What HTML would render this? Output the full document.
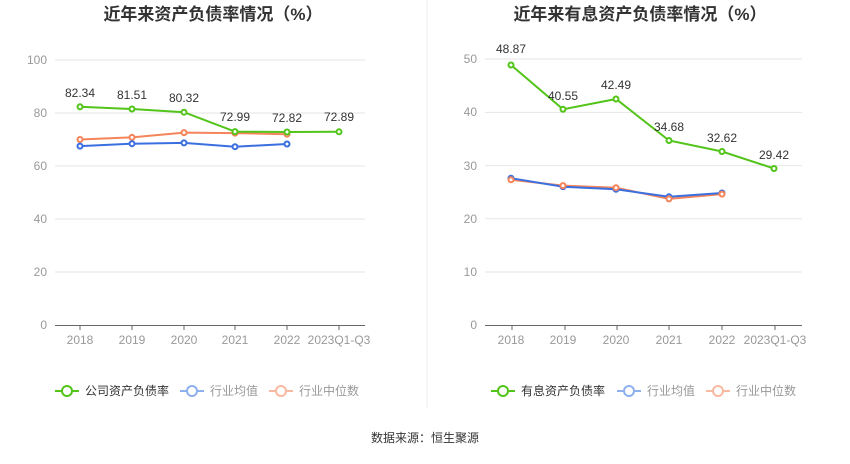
<!DOCTYPE html>
<html><head><meta charset="utf-8"><style>
html,body{margin:0;padding:0;background:#fff;}
svg text{font-family:"Liberation Sans","Noto Sans CJK SC",sans-serif;}
</style></head><body>
<svg width="850" height="459" xmlns="http://www.w3.org/2000/svg">
<g font-size="17" font-weight="bold" fill="#333" text-anchor="middle">
<text x="213" y="20">近年来资产负债率情况（%）</text>
<text x="640" y="20">近年来有息资产负债率情况（%）</text>
</g>
<line x1="427" y1="0" x2="427" y2="408" stroke="#eee"/>
<!-- left grid -->
<g stroke="#e6e6e6">
<line x1="55" y1="60" x2="365" y2="60"/><line x1="55" y1="113" x2="365" y2="113"/>
<line x1="55" y1="166" x2="365" y2="166"/><line x1="55" y1="219" x2="365" y2="219"/>
<line x1="55" y1="272" x2="365" y2="272"/>
</g>
<line x1="55" y1="325.5" x2="365" y2="325.5" stroke="#666"/>
<g stroke="#666"><line x1="80" y1="325" x2="80" y2="330"/><line x1="132" y1="325" x2="132" y2="330"/><line x1="184" y1="325" x2="184" y2="330"/><line x1="235" y1="325" x2="235" y2="330"/><line x1="287" y1="325" x2="287" y2="330"/><line x1="339" y1="325" x2="339" y2="330"/></g>
<g font-size="12" fill="#999" text-anchor="end">
<text x="47" y="64">100</text><text x="47" y="117">80</text><text x="47" y="170">60</text><text x="47" y="223">40</text><text x="47" y="276">20</text><text x="47" y="329">0</text>
</g>
<g font-size="12" fill="#999" text-anchor="middle">
<text x="80" y="344">2018</text><text x="132" y="344">2019</text><text x="184" y="344">2020</text><text x="235" y="344">2021</text><text x="287" y="344">2022</text><text x="339" y="344">2023Q1-Q3</text>
</g>
<g fill="#fff" stroke-width="2">
<polyline points="80,139.5 132,137.4 184,132.6 235,133.1 287,134.2" fill="none" stroke="#f5845a"/>
<polyline points="80,146.1 132,143.7 184,142.9 235,146.7 287,144" fill="none" stroke="#3a6fe0"/>
<polyline points="80,106.8 132,109 184,112.2 235,131.6 287,132 339,131.8" fill="none" stroke="#52c41a"/>
<g stroke="#f5845a"><circle cx="80" cy="139.5" r="2.5"/><circle cx="132" cy="137.4" r="2.5"/><circle cx="184" cy="132.6" r="2.5"/><circle cx="235" cy="133.1" r="2.5"/><circle cx="287" cy="134.2" r="2.5"/></g>
<g stroke="#3a6fe0"><circle cx="80" cy="146.1" r="2.5"/><circle cx="132" cy="143.7" r="2.5"/><circle cx="184" cy="142.9" r="2.5"/><circle cx="235" cy="146.7" r="2.5"/><circle cx="287" cy="144" r="2.5"/></g>
<g stroke="#52c41a"><circle cx="80" cy="106.8" r="2.5"/><circle cx="132" cy="109" r="2.5"/><circle cx="184" cy="112.2" r="2.5"/><circle cx="235" cy="131.6" r="2.5"/><circle cx="287" cy="132" r="2.5"/><circle cx="339" cy="131.8" r="2.5"/></g>
</g>
<g font-size="12" fill="#333" text-anchor="middle">
<text x="80" y="97">82.34</text><text x="132" y="99">81.51</text><text x="184" y="102">80.32</text><text x="235" y="121">72.99</text><text x="287" y="122">72.82</text><text x="339" y="121">72.89</text>
</g>
<!-- right grid -->
<g stroke="#e6e6e6">
<line x1="485" y1="59" x2="802" y2="59"/><line x1="485" y1="112.4" x2="802" y2="112.4"/>
<line x1="485" y1="165.6" x2="802" y2="165.6"/><line x1="485" y1="218.8" x2="802" y2="218.8"/>
<line x1="485" y1="272" x2="802" y2="272"/>
</g>
<line x1="485" y1="325.5" x2="802" y2="325.5" stroke="#666"/>
<g stroke="#666"><line x1="512" y1="325" x2="512" y2="330"/><line x1="565" y1="325" x2="565" y2="330"/><line x1="617" y1="325" x2="617" y2="330"/><line x1="669" y1="325" x2="669" y2="330"/><line x1="722" y1="325" x2="722" y2="330"/><line x1="775" y1="325" x2="775" y2="330"/></g>
<g font-size="12" fill="#999" text-anchor="end">
<text x="477" y="63">50</text><text x="477" y="116">40</text><text x="477" y="170">30</text><text x="477" y="223">20</text><text x="477" y="276">10</text><text x="477" y="329">0</text>
</g>
<g font-size="12" fill="#999" text-anchor="middle">
<text x="511" y="344">2018</text><text x="563" y="344">2019</text><text x="616" y="344">2020</text><text x="669" y="344">2021</text><text x="722" y="344">2022</text><text x="775" y="344">2023Q1-Q3</text>
</g>
<g fill="#fff" stroke-width="2">
<polyline points="511,179.8 563,185.6 616,187.7 669,198.9 722,194.1" fill="none" stroke="#f5845a"/>
<polyline points="511,178.2 563,186.7 616,189.3 669,196.8 722,193" fill="none" stroke="#3a6fe0"/>
<polyline points="511,65 563,109.3 616,99 669,140.5 722,151.5 774,168.5" fill="none" stroke="#52c41a"/>
<g stroke="#3a6fe0"><circle cx="511" cy="178.2" r="2.5"/><circle cx="563" cy="186.7" r="2.5"/><circle cx="616" cy="189.3" r="2.5"/><circle cx="669" cy="196.8" r="2.5"/><circle cx="722" cy="193" r="2.5"/></g>
<g stroke="#f5845a"><circle cx="511" cy="179.8" r="2.5"/><circle cx="563" cy="185.6" r="2.5"/><circle cx="616" cy="187.7" r="2.5"/><circle cx="669" cy="198.9" r="2.5"/><circle cx="722" cy="194.1" r="2.5"/></g>
<g stroke="#52c41a"><circle cx="511" cy="65" r="2.5"/><circle cx="563" cy="109.3" r="2.5"/><circle cx="616" cy="99" r="2.5"/><circle cx="669" cy="140.5" r="2.5"/><circle cx="722" cy="151.5" r="2.5"/><circle cx="774" cy="168.5" r="2.5"/></g>
</g>
<g font-size="12" fill="#333" text-anchor="middle">
<text x="511" y="53">48.87</text><text x="563" y="100">40.55</text><text x="616" y="89">42.49</text><text x="669" y="131">34.68</text><text x="722" y="142">32.62</text><text x="774" y="159">29.42</text>
</g>
<!-- legends -->
<g stroke-width="2" fill="#fff">
<line x1="55" y1="391" x2="79" y2="391" stroke="#52c41a"/><circle cx="67" cy="391" r="5" stroke="#52c41a"/>
<line x1="180" y1="391" x2="204" y2="391" stroke="#8fb0f0"/><circle cx="192" cy="391" r="5" stroke="#8fb0f0"/>
<line x1="269" y1="391" x2="293" y2="391" stroke="#f8b9a0"/><circle cx="281" cy="391" r="5" stroke="#f8b9a0"/>
<line x1="491" y1="391" x2="515" y2="391" stroke="#52c41a"/><circle cx="503" cy="391" r="5" stroke="#52c41a"/>
<line x1="617" y1="391" x2="641" y2="391" stroke="#8fb0f0"/><circle cx="629" cy="391" r="5" stroke="#8fb0f0"/>
<line x1="706" y1="391" x2="730" y2="391" stroke="#f8b9a0"/><circle cx="718" cy="391" r="5" stroke="#f8b9a0"/>
</g>
<g font-size="12">
<text x="85" y="395" fill="#333">公司资产负债率</text>
<text x="210" y="395" fill="#999">行业均值</text>
<text x="299" y="395" fill="#999">行业中位数</text>
<text x="521" y="395" fill="#333">有息资产负债率</text>
<text x="647" y="395" fill="#999">行业均值</text>
<text x="736" y="395" fill="#999">行业中位数</text>
</g>
<text x="425" y="442" font-size="12" fill="#333" text-anchor="middle">数据来源：恒生聚源</text>
</svg>
</body></html>
